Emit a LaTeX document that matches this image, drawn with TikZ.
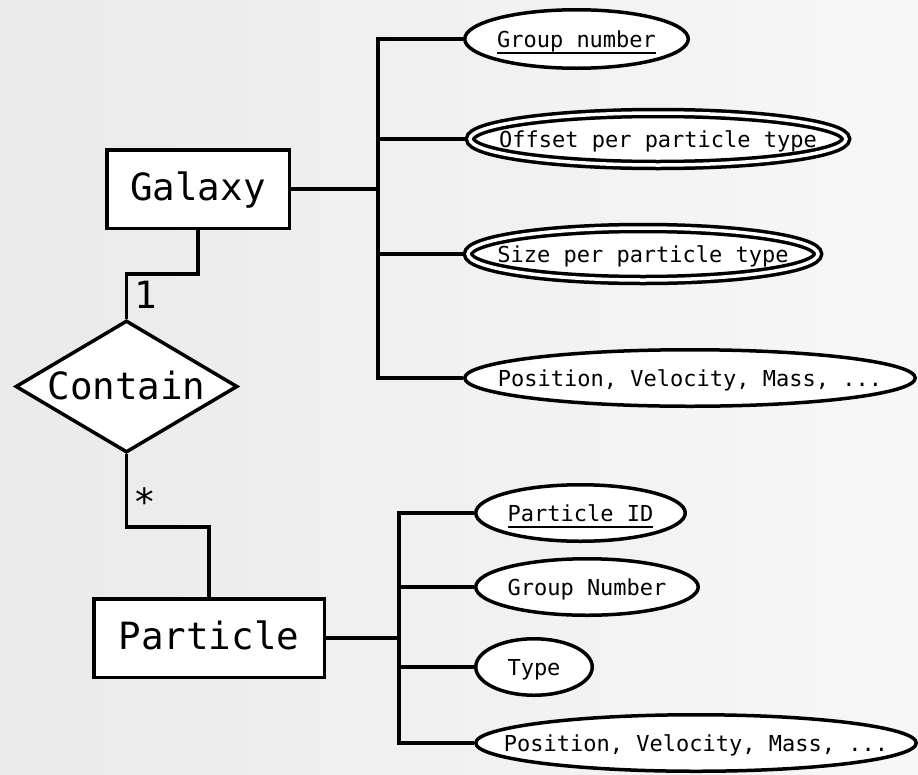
\documentclass[tikz,border=0pt]{standalone}
\usepackage{fontspec}
\usetikzlibrary{shapes.geometric}
\newfontfamily\erfont{DejaVu Sans Mono}

% zero-width text box, so that the shape size is fixed by the minimum sizes
\newcommand\zw[1]{\makebox[0pt]{#1}}
% key attribute: text with a heavy underline
\newcommand\keyul[1]{\setbox0\hbox{#1}\rlap{\rule[-7.2pt]{\wd0}{2.4pt}}\box0}

\definecolor{bgleft}{RGB}{234,234,234}
\definecolor{bgright}{RGB}{247,247,247}

\pgfdeclarelayer{backdrop}
\pgfdeclarelayer{wires}
\pgfsetlayers{backdrop,wires,main}

\tikzset{
  bigtext/.style={font=\erfont\fontsize{37.5}{44}\selectfont},
  smalltext/.style={font=\erfont\fontsize{22}{26}\selectfont},
  entity/.style={rectangle, draw, fill=white, line width=3.5pt, inner sep=0pt,
    bigtext, text height=27pt, text depth=4pt, minimum height=78.5pt},
  relation/.style={diamond, draw, fill=white, line width=3.5pt, inner sep=0pt,
    bigtext, text height=27pt, text depth=2pt,
    minimum width=222pt, minimum height=132pt},
  attr/.style={ellipse, draw, fill=white, line width=3.5pt, inner sep=0pt,
    smalltext, text height=16pt, text depth=0pt},
  multiattr/.style={attr, double, double distance=3.5pt},
  conn/.style={line width=3.5pt},
  cardinality/.style={bigtext, inner sep=0pt, anchor=base}
}

\begin{document}
\begin{tikzpicture}[x=1pt, y=-1pt]
  \useasboundingbox (0,0) rectangle (918,774);
  \begin{pgfonlayer}{backdrop}
    \shade[left color=bgleft, right color=bgright] (0,0) rectangle (918,774);
  \end{pgfonlayer}

  % entities and relationship
  \node[entity, minimum width=182.5pt] (galaxy) at (198,189) {Galaxy};
  \node[relation] (contain) at (126.5,386.5) {\zw{Contain}};
  \node[entity, minimum width=230.5pt] (particle) at (209,638) {Particle};

  % cardinalities
  \node[cardinality] (one) at (145.5,308) {1};
  \node[cardinality] (many) at (144.5,515) {*};

  % galaxy attributes
  \node[attr, minimum width=223.5pt, minimum height=58.5pt] (ga1) at (576.5,39)
    {\zw{\keyul{Group number}}};
  \node[multiattr, minimum width=376pt, minimum height=52pt] (ga2) at (658,139)
    {\zw{Offset per particle type}};
  \node[multiattr, minimum width=350pt, minimum height=52pt] (ga3) at (643,254)
    {\zw{Size per particle type}};
  \node[attr, minimum width=450.5pt, minimum height=56.5pt] (ga4) at (690,378)
    {\zw{Position, Velocity, Mass, ...}};

  % particle attributes
  \node[attr, minimum width=209.5pt, minimum height=56.5pt] (pa1) at (580.5,513)
    {\zw{\keyul{Particle ID}}};
  \node[attr, minimum width=222.5pt, minimum height=56.5pt] (pa2) at (587,587)
    {\zw{Group Number}};
  \node[attr, minimum width=116.5pt, minimum height=56.5pt] (pa3) at (534,667)
    {\zw{Type}};
  \node[attr, minimum width=440.5pt, minimum height=56.5pt] (pa4) at (696,743)
    {\zw{Position, Velocity, Mass, ...}};

  % bus lines and elbows
  \coordinate (gbus) at (378,0);
  \coordinate (pbus) at (399,0);
  \coordinate (gcmid) at (0,274);
  \coordinate (cpmid) at (0,527);

  \begin{pgfonlayer}{wires}
    \draw[conn] (ga1.west) -- (ga1.west -| gbus) -- (ga4.west -| gbus) -- (ga4.west);
    \draw[conn] (ga2.west) -- (ga2.west -| gbus);
    \draw[conn] (ga3.west) -- (ga3.west -| gbus);
    \draw[conn] (galaxy.east) -- (galaxy.east -| gbus);

    \draw[conn] (pa1.west) -- (pa1.west -| pbus) -- (pa4.west -| pbus) -- (pa4.west);
    \draw[conn] (pa2.west) -- (pa2.west -| pbus);
    \draw[conn] (pa3.west) -- (pa3.west -| pbus);
    \draw[conn] (particle.east) -- (particle.east -| pbus);

    \draw[conn] (galaxy.south) -- (galaxy.south |- gcmid) -| (contain.north);
    \draw[conn] (contain.south) -- (contain.south |- cpmid) -| (particle.north);
  \end{pgfonlayer}
\end{tikzpicture}
\end{document}
